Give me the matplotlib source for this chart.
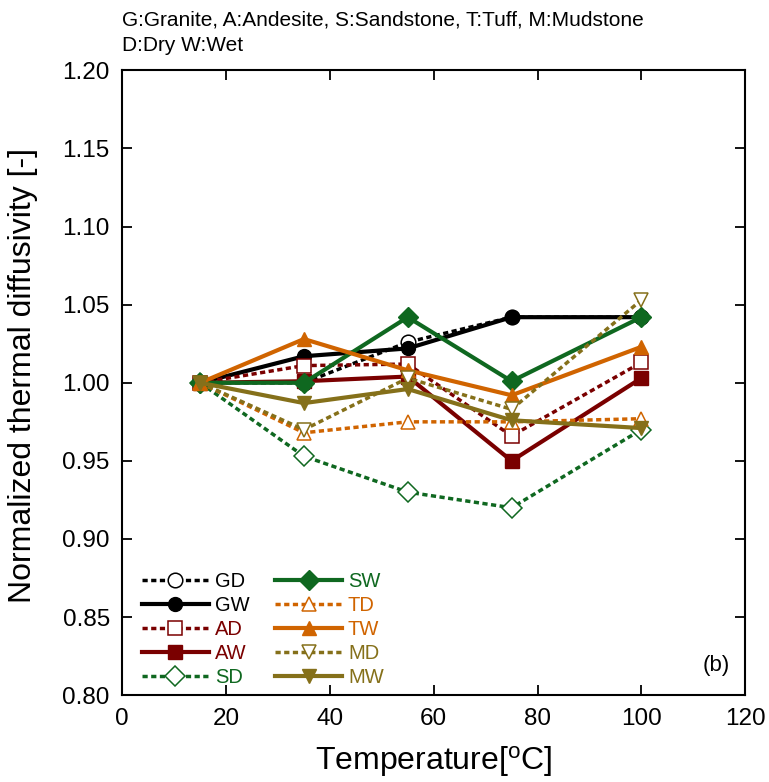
import matplotlib.pyplot as plt

plt.rcParams['font.family'] = ['Liberation Sans', 'DejaVu Sans']

temps = [15, 35, 55, 75, 100]

gd = [1.000, 1.000, 1.026, 1.042, 1.042]
gw = [1.000, 1.017, 1.022, 1.042, 1.042]
ad = [1.000, 1.011, 1.012, 0.966, 1.013]
aw = [1.000, 1.001, 1.004, 0.950, 1.003]
sd = [1.000, 0.953, 0.930, 0.920, 0.970]
sw = [1.000, 1.000, 1.042, 1.001, 1.042]
td = [1.000, 0.968, 0.975, 0.975, 0.977]
tw = [1.000, 1.028, 1.008, 0.992, 1.023]
md = [1.000, 0.970, 1.003, 0.983, 1.053]
mw = [1.000, 0.987, 0.996, 0.976, 0.971]

black = 'black'
red = '#7a0000'
green = '#0f6820'
orange = '#d06400'
olive = '#85701a'

series = [
    ('GD', gd, black, 'o', False),
    ('GW', gw, black, 'o', True),
    ('AD', ad, red, 's', False),
    ('AW', aw, red, 's', True),
    ('SD', sd, green, 'D', False),
    ('SW', sw, green, 'D', True),
    ('TD', td, orange, '^', False),
    ('TW', tw, orange, '^', True),
    ('MD', md, olive, 'v', False),
    ('MW', mw, olive, 'v', True),
]

fig = plt.figure(figsize=(7.69, 7.82), dpi=100)
ax = fig.add_axes([0.159, 0.111, 0.81, 0.799])

for name, vals, c, m, wet in series:
    if wet:
        ax.plot(temps, vals, color=c, linestyle='-', linewidth=3,
                marker=m, markersize=10, markerfacecolor=c, markeredgecolor=c,
                label=name)
    else:
        ax.plot(temps, vals, color=c, linestyle=(0, (1.5, 1.0)), linewidth=2.5,
                marker=m, markersize=10.5, markerfacecolor='white', markeredgecolor=c,
                markeredgewidth=1.1, label=name)

ax.set_xlim(0, 120)
ax.set_ylim(0.80, 1.20)
ax.set_xticks([0, 20, 40, 60, 80, 100, 120])
ax.set_yticks([0.80, 0.85, 0.90, 0.95, 1.00, 1.05, 1.10, 1.15, 1.20])
ax.yaxis.set_major_formatter(plt.FormatStrFormatter('%.2f'))
ax.tick_params(direction='in', top=True, right=True, length=7, width=1.3,
               labelsize=17.5, pad=9)
for sp in ax.spines.values():
    sp.set_linewidth(1.5)

ax.set_xlabel('Temperature[$\\mathregular{^{o}}$C]', fontsize=23, labelpad=10)
ax.set_ylabel('Normalized thermal diffusivity [-]', fontsize=23)
ax.yaxis.set_label_coords(-0.135, 0.512)

leg = ax.legend(loc='lower left', bbox_to_anchor=(0.019, 0.0), ncol=2,
                frameon=False, fontsize=14.5,
                handlelength=3.3, handletextpad=0.3, columnspacing=1.3,
                labelspacing=0.25, borderaxespad=0.0)
for txt, s in zip(leg.get_texts(), series):
    txt.set_color(s[2])

ax.text(0.975, 0.03, '(b)', transform=ax.transAxes, ha='right', va='bottom',
        fontsize=16)

fig.text(0.159, 0.974, 'G:Granite, A:Andesite, S:Sandstone, T:Tuff, M:Mudstone',
         fontsize=15, va='center')
fig.text(0.159, 0.942, 'D:Dry W:Wet', fontsize=15, va='center')

plt.savefig('out.png', dpi=100)
